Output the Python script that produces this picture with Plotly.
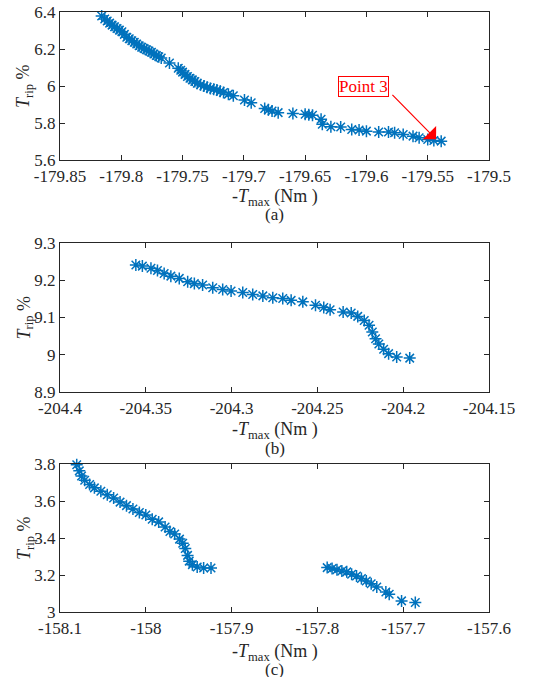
import plotly.graph_objects as go

# ---------------- data ----------------
a_x = [-179.816, -179.8135, -179.8115, -179.8095, -179.8075, -179.8055, -179.8035, -179.8015, -179.7995, -179.7975,
       -179.7955, -179.7935, -179.7914, -179.7894, -179.7874, -179.7854, -179.7834, -179.7814, -179.7794, -179.7774,
       -179.7754, -179.7734, -179.7714, -179.7694, -179.7674, -179.7607, -179.7535, -179.7515, -179.7500, -179.7480,
       -179.7460, -179.7440, -179.7420, -179.7400, -179.7380, -179.7353, -179.7326, -179.7300, -179.7273, -179.7246,
       -179.7220, -179.7193, -179.7166, -179.7126, -179.7086, -179.6995, -179.6940, -179.6830, -179.6800, -179.6770,
       -179.6720, -179.6600, -179.6500, -179.6470, -179.6440, -179.6370, -179.6360, -179.6290, -179.6210, -179.6120,
       -179.6060, -179.6000, -179.5900, -179.5820, -179.5770, -179.5700, -179.5620, -179.5570, -179.5500, -179.5450,
       -179.5390]
a_y = [6.378, 6.362, 6.351, 6.340, 6.329, 6.320, 6.311, 6.302, 6.293, 6.279,
       6.264, 6.255, 6.245, 6.236, 6.227, 6.218, 6.209, 6.203, 6.196, 6.189,
       6.182, 6.173, 6.165, 6.158, 6.151, 6.124, 6.096, 6.085, 6.075, 6.063,
       6.051, 6.042, 6.033, 6.024, 6.015, 6.007, 6.000, 5.993, 5.987, 5.982,
       5.978, 5.971, 5.965, 5.956, 5.947, 5.924, 5.909, 5.878, 5.871, 5.865,
       5.856, 5.851, 5.847, 5.845, 5.842, 5.820, 5.793, 5.780, 5.778, 5.765,
       5.762, 5.756, 5.751, 5.751, 5.747, 5.738, 5.729, 5.720, 5.711, 5.705,
       5.702]

b_x = [-204.3558, -204.3520, -204.3470, -204.3432, -204.3393, -204.3354, -204.3305, -204.3256, -204.3217, -204.3169,
       -204.3110, -204.3052, -204.3003, -204.2935, -204.2877, -204.2818, -204.2760, -204.2702, -204.2653, -204.2585,
       -204.2511, -204.2463, -204.2426, -204.2350, -204.2303, -204.2265, -204.2227, -204.2199, -204.2180, -204.2161,
       -204.2142, -204.2114, -204.2085, -204.2038, -204.1962]
b_y = [9.241, 9.238, 9.232, 9.226, 9.218, 9.211, 9.205, 9.196, 9.191, 9.187,
       9.180, 9.175, 9.171, 9.167, 9.162, 9.158, 9.153, 9.151, 9.146, 9.142,
       9.133, 9.127, 9.121, 9.115, 9.112, 9.103, 9.092, 9.079, 9.061, 9.043,
       9.029, 9.015, 9.003, 8.994, 8.991]

c_x = [-158.0805, -158.0775, -158.0749, -158.0712, -158.0655, -158.0599, -158.0524, -158.0449, -158.0375, -158.0300,
       -158.0225, -158.0150, -158.0075, -158.0000, -157.9925, -157.9850, -157.9775, -157.9719, -157.9663, -157.9607,
       -157.9570, -157.9540, -157.9513, -157.9494, -157.9457, -157.9401, -157.9326, -157.9240,
       -157.7886, -157.7829, -157.7772, -157.7715, -157.7658, -157.7601, -157.7544, -157.7487, -157.7430, -157.7373,
       -157.7308, -157.7202, -157.7163, -157.7019, -157.6859]
c_y = [3.796, 3.763, 3.735, 3.712, 3.689, 3.671, 3.653, 3.634, 3.616, 3.594,
       3.575, 3.557, 3.538, 3.524, 3.501, 3.487, 3.459, 3.435, 3.422, 3.394,
       3.372, 3.343, 3.306, 3.275, 3.256, 3.243, 3.238, 3.238,
       3.240, 3.235, 3.228, 3.222, 3.217, 3.204, 3.195, 3.181, 3.168, 3.153,
       3.135, 3.108, 3.096, 3.060, 3.051]

a_xticks = [-179.85, -179.8, -179.75, -179.7, -179.65, -179.6, -179.55, -179.5]
a_xlabels = ["-179.85", "-179.8", "-179.75", "-179.7", "-179.65", "-179.6", "-179.55", "-179.5"]
a_yticks = [5.6, 5.8, 6.0, 6.2, 6.4]
a_ylabels = ["5.6", "5.8", "6", "6.2", "6.4"]

b_xticks = [-204.4, -204.35, -204.3, -204.25, -204.2, -204.15]
b_xlabels = ["-204.4", "-204.35", "-204.3", "-204.25", "-204.2", "-204.15"]
b_yticks = [8.9, 9.0, 9.1, 9.2, 9.3]
b_ylabels = ["8.9", "9", "9.1", "9.2", "9.3"]

c_xticks = [-158.1, -158.0, -157.9, -157.8, -157.7, -157.6]
c_xlabels = ["-158.1", "-158", "-157.9", "-157.8", "-157.7", "-157.6"]
c_yticks = [3.0, 3.2, 3.4, 3.6, 3.8]
c_ylabels = ["3", "3.2", "3.4", "3.6", "3.8"]

captions = ["(a)", "(b)", "(c)"]
point_label = "Point 3"
point_box = (-179.602, 6.0)
arrow_tail = (-179.580, 5.960)
arrow_tip = (-179.5432, 5.712)

# ---------------- figure ----------------
W, H = 535, 677
L, R, T, B = 60, 46, 12, 65
plot_h = H - T - B

def py(px):
    return (H - B - px) / plot_h

FONT = "Liberation Serif, 'Times New Roman', Times, serif"
AX = "#262626"
BLUE = "#0072BD"

fig = go.Figure()

panels = [
    (a_x, a_y, "x", "y", (160, 12), a_xticks, a_xlabels, a_yticks, a_ylabels, [-179.85, -179.5], [5.6, 6.4]),
    (b_x, b_y, "x2", "y2", (392, 243), b_xticks, b_xlabels, b_yticks, b_ylabels, [-204.4, -204.15], [8.9, 9.3]),
    (c_x, c_y, "x3", "y3", (612, 464), c_xticks, c_xlabels, c_yticks, c_ylabels, [-158.1, -157.6], [3.0, 3.8]),
]

layout_axes = {}
for i, (xs, ys, xa, ya, (pbot, ptop), xt, xl, yt, yl, xr, yr) in enumerate(panels):
    fig.add_trace(go.Scatter(
        x=xs, y=ys, xaxis=xa, yaxis=ya, mode="markers",
        marker=dict(symbol="asterisk-open", size=10, color=BLUE,
                    line=dict(color=BLUE, width=1.5)),
        showlegend=False, hoverinfo="skip", cliponaxis=False))
    suffix = "" if i == 0 else str(i + 1)
    common = dict(showline=True, linecolor=AX, linewidth=1, mirror="allticks",
                  ticks="inside", ticklen=5, tickwidth=1, tickcolor=AX,
                  showgrid=False, zeroline=False, automargin=False,
                  tickfont=dict(family=FONT, size=17, color=AX))
    layout_axes["xaxis" + suffix] = dict(common, domain=[0, 1], range=xr, tickvals=xt, ticktext=xl,
                                         anchor="y" + suffix, ticklabelstandoff=1)
    layout_axes["yaxis" + suffix] = dict(common, domain=[py(pbot), py(ptop)], range=yr,
                                         tickvals=yt, ticktext=yl, anchor="x" + suffix)

fig.update_layout(**layout_axes)

annotations = []
title_y = [197, 431, 652]
cap_y = [214, 448, 669]
ytitle_center = [86, 317.5, 538]
for i in range(3):
    annotations.append(dict(
        text="-<i>T</i><sub>max</sub> (Nm )", xref="paper", yref="paper",
        x=0.5, y=py(title_y[i]), xanchor="center", yanchor="middle", showarrow=False,
        font=dict(family=FONT, size=18, color=AX)))
    annotations.append(dict(
        text=captions[i], xref="paper", yref="paper",
        x=0.5, y=py(cap_y[i]), xanchor="center", yanchor="middle", showarrow=False,
        font=dict(family=FONT, size=17, color=AX)))
    annotations.append(dict(
        text="<i>T</i><sub>rip</sub> %", xref="paper", yref="paper", textangle=-90,
        x=(25 - L) / (W - L - R), y=py(ytitle_center[i]), xanchor="center", yanchor="middle",
        showarrow=False, font=dict(family=FONT, size=18, color=AX)))

annotations.append(dict(
    text="", x=arrow_tip[0], y=arrow_tip[1], xref="x", yref="y",
    ax=arrow_tail[0], ay=arrow_tail[1], axref="x", ayref="y",
    showarrow=True, arrowhead=1, arrowsize=2.6, arrowwidth=1.2, arrowcolor="#FF0000", standoff=0))
annotations.append(dict(
    text=point_label, x=point_box[0], y=point_box[1], xref="x", yref="y",
    xanchor="center", yanchor="middle", showarrow=False,
    font=dict(family=FONT, size=17, color="#FF0000"),
    bgcolor="white", bordercolor="#FF0000", borderwidth=1, borderpad=0))

fig.update_layout(
    template="none",
    annotations=annotations,
    width=W, height=H,
    margin=dict(l=L, r=R, t=T, b=B, autoexpand=False),
    paper_bgcolor="white", plot_bgcolor="white",
    font=dict(family=FONT, color=AX),
    showlegend=False,
)

fig.write_html("out.html")
